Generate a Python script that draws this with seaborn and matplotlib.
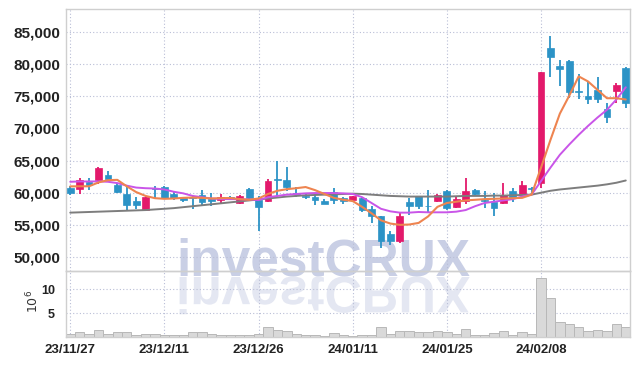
import numpy as np
import matplotlib
matplotlib.use("Agg")
import matplotlib.pyplot as plt
import seaborn as sns
from matplotlib.textpath import TextPath
from matplotlib.patches import PathPatch
from matplotlib.font_manager import FontProperties
from matplotlib.transforms import Affine2D, IdentityTransform

# trading days: tick labels every 10 sessions
tick_pos = [0, 10, 20, 30, 40, 50]
tick_labels = ["23/11/27", "23/12/11", "23/12/26", "24/01/11", "24/01/25", "24/02/08"]

opens = [60800, 60570, 61660, 62020, 62800, 61240, 59800, 58760, 57360, 60730,
         60890, 59840, 59220, 59350, 59690, 59020, 58800, 59330, 58400, 60570,
         58910, 58650, 62100, 62020, 59900, 59530, 59270, 58760, 60100, 59180,
         58910, 59180, 57520, 56320, 53630, 52550, 58490, 59430, 58000, 58750,
         60200, 57780, 58650, 60470, 58850, 58490, 58400, 60200, 59840, 60800,
         61500, 82560, 79780, 80550, 75800, 75060, 75990, 73000, 75890, 79470]
highs = [61100, 62280, 62280, 64000, 63300, 61500, 60980, 59270, 59500, 61100,
         61100, 60100, 59400, 59500, 60360, 59900, 59800, 59500, 59600, 60700,
         59430, 62200, 64860, 63930, 60890, 59900, 59580, 59000, 60730, 59300,
         59500, 59400, 57980, 56430, 54000, 56850, 59180, 59500, 60400, 59800,
         60470, 59300, 62280, 60500, 60200, 60000, 61500, 60700, 61760, 60900,
         78830, 84380, 80660, 80600, 78480, 77280, 78070, 73930, 77030, 79620]
lows = [59700, 59800, 60470, 61350, 61860, 59900, 57360, 57520, 57360, 59220,
        58960, 58900, 58600, 57400, 57980, 58000, 58400, 58900, 58300, 59000,
        54100, 58500, 59180, 60310, 59270, 59000, 58030, 58250, 58290, 58300,
        58600, 57000, 55300, 51410, 51920, 52190, 56590, 57400, 56850, 58500,
        57360, 57600, 58250, 59600, 57620, 56430, 58290, 58600, 59100, 59690,
        60730, 77980, 76670, 74800, 74600, 73770, 73930, 70920, 73930, 73150]
closes = [59950, 61900, 61240, 63840, 62170, 60050, 58030, 58030, 59270, 60600,
          59180, 59120, 58800, 59200, 58500, 58650, 59270, 59020, 59530, 59180,
          57720, 61860, 61950, 60890, 59780, 59270, 58910, 58290, 58910, 58760,
          59430, 57250, 56320, 52440, 52440, 56430, 57880, 57880, 57880, 59600,
          57620, 59020, 60200, 59800, 58760, 57620, 59690, 59180, 61240, 60650,
          78830, 81170, 79260, 75730, 75650, 74650, 74650, 71850, 76770, 74030]

# volume in millions of shares
volumes = [0.7, 1.1, 0.6, 1.45, 0.6, 1.05, 1.05, 0.4, 0.7, 0.7,
           0.4, 0.4, 0.4, 1.1, 1.1, 0.7, 0.4, 0.4, 0.4, 0.4,
           0.7, 2.1, 1.5, 1.3, 0.7, 0.4, 0.4, 0.25, 0.8, 0.4,
           0.2, 0.4, 0.4, 2.1, 0.7, 1.3, 1.3, 1.1, 1.1, 1.3,
           1.0, 0.7, 1.65, 0.4, 0.4, 0.8, 1.3, 0.4, 1.1, 0.7,
           12.3, 8.1, 3.2, 2.8, 2.15, 1.3, 1.5, 1.3, 2.8, 2.15]

# moving average lines
ma_short = [60980, 61000, 61000, 61600, 61950, 62000, 61000, 60100, 59500, 59150,
            59050, 59100, 59200, 59250, 59200, 59100, 59150, 59180, 59000, 58900,
            59100, 59800, 60300, 60550, 60700, 60880, 60400, 59800, 59200, 58900,
            58700, 57800, 56800, 55700, 55200, 55000, 55050, 55300, 56300, 57800,
            58400, 58600, 58800, 58900, 59000, 59050, 59100, 59150, 59200, 59700,
            63900, 68200, 72300, 75100, 78100, 77300, 76000, 74700, 74700, 74500]
ma_mid = [61700, 61750, 61750, 61760, 61700, 61500, 61100, 60800, 60700, 60650,
          60500, 60150, 59900, 59500, 59300, 59100, 59020, 59000, 59000, 58950,
          58850, 59300, 59500, 59700, 59800, 59900, 59950, 59950, 59950, 59900,
          59800, 59300, 58400, 57500, 57100, 56900, 56900, 57000, 56950, 56950,
          56950, 57050, 57300, 57900, 58400, 58600, 58800, 59000, 59400, 59700,
          61800, 63900, 65900, 67500, 69000, 70400, 71700, 72900, 74500, 76400]
ma_long = [56900, 56950, 57000, 57050, 57100, 57150, 57200, 57250, 57300, 57400,
           57500, 57600, 57750, 57900, 58050, 58200, 58350, 58500, 58650, 58800,
           58950, 59100, 59250, 59400, 59500, 59600, 59650, 59700, 59750, 59800,
           59850, 59800, 59700, 59600, 59500, 59450, 59400, 59400, 59400, 59400,
           59400, 59450, 59500, 59500, 59500, 59550, 59550, 59600, 59650, 59700,
           60000, 60300, 60500, 60650, 60800, 60950, 61100, 61300, 61550, 61900]

UP = "#e3196b"
DOWN = "#2c93c6"
GRID = "#b9bed6"
SPINE = "#cfcfcf"

sns.set_style("white")
plt.rcParams["font.family"] = ["Liberation Sans", "DejaVu Sans"]

W, H = 639, 366
fig = plt.figure(figsize=(W / 100, H / 100), dpi=100)
fig.patch.set_facecolor("white")
ax = fig.add_axes([66 / W, (H - 271) / H, (630 - 66) / W, (271 - 9) / H])
axv = fig.add_axes([66 / W, (H - 337) / H, (630 - 66) / W, (337 - 271) / H], sharex=ax)
for a in (ax, axv):
    a.set_facecolor("none")

# watermark + its mirror image
wm_size = 37
wm_font = FontProperties(family=["Liberation Sans", "DejaVu Sans"], weight="bold", size=wm_size)
fig.text(176 / W, (H - 275) / H, "investCRUX", fontproperties=wm_font,
         color="#c9cfe5", ha="left", va="baseline", zorder=-2)
tp = TextPath((0, 0), "investCRUX", prop=wm_font, size=wm_size * 100 / 72)
refl = Affine2D().scale(1, -1).translate(176, H - 277)
fig.patches.append(PathPatch(tp, transform=refl + IdentityTransform(),
                             facecolor="#e4e7f2", edgecolor="none", zorder=-2))

idx = np.arange(len(closes))
o = np.array(opens)
c = np.array(closes)
colors = [UP if cc > oo else DOWN for oo, cc in zip(o, c)]

# grid
for a in (ax, axv):
    a.grid(True, color=GRID, linestyle=(0, (1, 2)), linewidth=0.8)
    a.set_axisbelow(True)

# candles
ax.vlines(idx, lows, highs, colors=colors, linewidth=1.3, zorder=2)
body = np.maximum(np.abs(c - o), 120)
ax.bar(idx, body, bottom=np.minimum(o, c), width=0.72, color=colors,
       edgecolor=colors, linewidth=0.5, zorder=3)

sns.lineplot(x=idx, y=ma_long, ax=ax, color="#7d7d7d", linewidth=1.4, zorder=4)
sns.lineplot(x=idx, y=ma_mid, ax=ax, color="#c955e8", linewidth=1.4, zorder=4)
sns.lineplot(x=idx, y=ma_short, ax=ax, color="#ee8450", linewidth=1.5, zorder=5)

ax.set_ylim(47820, 88580)
ax.set_yticks(range(50000, 85001, 5000))
ax.set_yticklabels([f"{v:,}" for v in range(50000, 85001, 5000)])
ax.set_xlim(-0.45, 59.45)
ax.set_xticks(tick_pos)
ax.tick_params(axis="x", labelbottom=False, length=0)
ax.tick_params(axis="y", length=0, pad=4, labelsize=11, labelcolor="#222222")
for lbl in ax.get_yticklabels():
    lbl.set_fontweight("bold")

# volume
axv.bar(idx, volumes, width=1.0, color="#d9d9d9", edgecolor="#b8b8b8", linewidth=0.7, zorder=2)
axv.set_ylim(0, 13.8)
axv.set_yticks([5, 10])
axv.set_yticklabels(["5", "10"])
axv.set_xticks(tick_pos)
axv.set_xticklabels(tick_labels)
axv.tick_params(axis="x", length=0, pad=5, labelsize=9.5, labelcolor="#222222")
axv.tick_params(axis="y", length=0, pad=8, labelsize=9, labelcolor="#222222")
for lbl in axv.get_xticklabels() + axv.get_yticklabels():
    lbl.set_fontweight("bold")
fig.text(33 / W, (H - 301) / H, r"$10^6$", rotation=90, ha="center", va="center",
         fontsize=9, color="#333333", family="DejaVu Sans")

for a in (ax, axv):
    for s in a.spines.values():
        s.set_color(SPINE)
        s.set_linewidth(1.0)

fig.savefig("out.png", dpi=100)
